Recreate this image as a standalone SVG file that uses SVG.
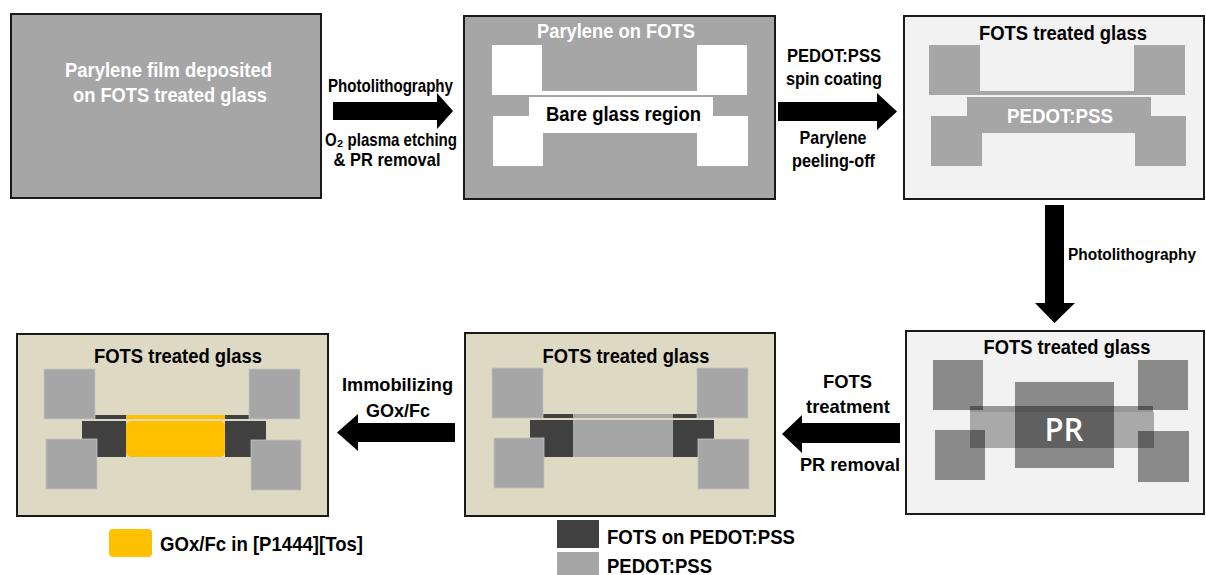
<svg xmlns="http://www.w3.org/2000/svg" width="1206" height="575" viewBox="0 0 1206 575">
<style>
text{font-family:"Liberation Sans",Arial,sans-serif;font-weight:bold}
.box{stroke:#1a1a1a;stroke-width:2}
.dg{fill:#a6a6a6}
.lt{fill:#f2f2f2}
.tan{fill:#ddd9c3}
.pad{fill:#a6a6a6;stroke:#c4c4c4;stroke-width:0.8}
.dk{fill:#404040}
.yl{fill:#ffc000}
.wh{fill:#ffffff}
.arrow{fill:#000000}
.t19{font-size:20.5px}
.t17{font-size:18.5px}
.wt{fill:#ffffff}
.bk{fill:#000000}
</style>
<g id="step1">
<rect class="box dg" x="11" y="14" width="310" height="184"/>
<text class="t19 wt" x="168.5" y="77" text-anchor="middle" textLength="207" lengthAdjust="spacingAndGlyphs">Parylene film deposited</text>
<text class="t19 wt" x="170" y="102" text-anchor="middle" textLength="194" lengthAdjust="spacingAndGlyphs">on FOTS treated glass</text>
</g>
<g id="step2">
<rect class="box dg" x="464" y="16" width="311" height="183"/>
<text class="t19 wt" x="616" y="38" text-anchor="middle" textLength="158" lengthAdjust="spacingAndGlyphs">Parylene on FOTS</text>
<rect class="wh" x="492" y="45" width="50" height="50"/>
<rect class="wh" x="697" y="45" width="50" height="50"/>
<rect class="wh" x="541" y="91" width="157" height="4"/>
<rect class="wh" x="529" y="97" width="184" height="36"/>
<rect class="wh" x="493" y="116" width="50" height="50"/>
<rect class="wh" x="697" y="116" width="51" height="50"/>
<text class="t19 bk" x="623.5" y="121" text-anchor="middle" textLength="155" lengthAdjust="spacingAndGlyphs">Bare glass region</text>
</g>
<g id="step3">
<rect class="box lt" x="904" y="16" width="300" height="183"/>
<text class="t19 bk" x="1063" y="40" text-anchor="middle" textLength="168" lengthAdjust="spacingAndGlyphs">FOTS treated glass</text>
<rect class="dg" x="929" y="45" width="51" height="50"/>
<rect class="dg" x="1134" y="45" width="51" height="50"/>
<rect class="dg" x="979" y="91" width="156" height="4"/>
<rect class="dg" x="967" y="97" width="184" height="36"/>
<rect class="dg" x="931" y="116" width="51" height="50"/>
<rect class="dg" x="1135" y="116" width="51" height="50"/>
<text class="t19 wt" x="1060" y="123" text-anchor="middle" textLength="106" lengthAdjust="spacingAndGlyphs">PEDOT:PSS</text>
</g>
<g id="step4">
<rect class="box lt" x="906" y="331" width="298" height="183"/>
<text class="t19 bk" x="1067" y="354" text-anchor="middle" textLength="167" lengthAdjust="spacingAndGlyphs">FOTS treated glass</text>
<rect x="933" y="360" width="50" height="50" fill="#000" fill-opacity="0.43"/>
<rect x="1138" y="360" width="50" height="50" fill="#000" fill-opacity="0.43"/>
<rect x="970" y="406" width="183" height="6" fill="#000" fill-opacity="0.38"/>
<rect x="970" y="412" width="184" height="36" fill="#000" fill-opacity="0.3"/>
<rect x="935" y="430" width="50" height="50" fill="#000" fill-opacity="0.43"/>
<rect x="1138" y="431" width="51" height="51" fill="#000" fill-opacity="0.43"/>
<rect x="1015" y="382" width="99" height="86" fill="#000" fill-opacity="0.43"/>
<text x="1064" y="441" text-anchor="middle" style="font-family:'Open Sans','Noto Sans',sans-serif;font-weight:600;font-size:33px" fill="#ffffff" textLength="39" lengthAdjust="spacingAndGlyphs">PR</text>
</g>
<g id="step5">
<rect class="box tan" x="465" y="333" width="310" height="183"/>
<text class="t19 bk" x="626" y="363" text-anchor="middle" textLength="167" lengthAdjust="spacingAndGlyphs">FOTS treated glass</text>
<rect class="dk" x="543" y="414" width="30" height="4"/>
<rect class="dg" x="573" y="414" width="100" height="4"/>
<rect class="dk" x="673" y="414" width="24" height="4"/>
<rect class="dk" x="530" y="420" width="43" height="37"/>
<rect class="dg" x="573" y="420" width="100" height="37"/>
<rect class="dk" x="673" y="420" width="41" height="37"/>
<rect class="pad" x="492" y="368" width="51" height="50"/>
<rect class="pad" x="697" y="368" width="51" height="50"/>
<rect class="pad" x="494" y="438" width="50" height="50"/>
<rect class="pad" x="698" y="439" width="51" height="50"/>
</g>
<g id="step6">
<rect class="box tan" x="17" y="334" width="311" height="182"/>
<text class="t19 bk" x="178" y="363" text-anchor="middle" textLength="168" lengthAdjust="spacingAndGlyphs">FOTS treated glass</text>
<rect class="dk" x="95" y="415" width="31" height="4"/>
<rect class="yl" x="126" y="415" width="99" height="4"/>
<rect class="dk" x="225" y="415" width="24" height="4"/>
<rect class="dk" x="82" y="421" width="44" height="36"/>
<rect class="dk" x="225" y="421" width="41" height="36"/>
<rect class="yl" x="126" y="421" width="99" height="36" rx="5"/>
<rect class="pad" x="44" y="369" width="51" height="50"/>
<rect class="pad" x="249" y="369" width="51" height="50"/>
<rect class="pad" x="46" y="439" width="51" height="50"/>
<rect class="pad" x="251" y="440" width="50" height="50"/>
</g>
<g id="legend-fots">
<rect class="dk" x="557" y="520" width="42" height="28"/>
<rect class="dg" x="557" y="552" width="42" height="25"/>
<text class="t19 bk" x="607" y="544" textLength="188" lengthAdjust="spacingAndGlyphs">FOTS on PEDOT:PSS</text>
<text class="t19 bk" x="607" y="573" textLength="105" lengthAdjust="spacingAndGlyphs">PEDOT:PSS</text>
</g>
<g id="legend-gox">
<rect class="yl" x="109" y="529" width="43" height="28" rx="4"/>
<text class="t19 bk" x="160" y="551" textLength="203" lengthAdjust="spacingAndGlyphs">GOx/Fc in [P1444][Tos]</text>
</g>
<g id="connectors">
<polygon class="arrow" points="333,102 437,102 437,93 453,111 437,129 437,120 333,120"/>
<text class="t17 bk" x="390.5" y="92" text-anchor="middle" textLength="125" lengthAdjust="spacingAndGlyphs">Photolithography</text>
<text class="t17 bk" x="391" y="146" text-anchor="middle" textLength="132" lengthAdjust="spacingAndGlyphs">O₂ plasma etching</text>
<text class="t17 bk" x="387" y="166" text-anchor="middle" textLength="107" lengthAdjust="spacingAndGlyphs">&amp; PR removal</text>
<polygon class="arrow" points="778,102 877,102 877,93 897,111.5 877,130 877,121 778,121"/>
<text class="t17 bk" x="834" y="62" text-anchor="middle" textLength="94" lengthAdjust="spacingAndGlyphs">PEDOT:PSS</text>
<text class="t17 bk" x="834" y="85" text-anchor="middle" textLength="96" lengthAdjust="spacingAndGlyphs">spin coating</text>
<text class="t17 bk" x="833" y="144" text-anchor="middle" textLength="67" lengthAdjust="spacingAndGlyphs">Parylene</text>
<text class="t17 bk" x="833.5" y="167" text-anchor="middle" textLength="83" lengthAdjust="spacingAndGlyphs">peeling-off</text>
<polygon class="arrow" points="1045,205 1064,205 1064,303 1075,303 1054.5,323 1035,303 1045,303"/>
<text class="bk" x="1068" y="260" style="font-size:16px" textLength="128" lengthAdjust="spacingAndGlyphs">Photolithography</text>
<polygon class="arrow" points="900,423 802,423 802,415 782,434 802,453 802,443 900,443"/>
<text class="t17 bk" x="847.5" y="388" text-anchor="middle" textLength="49" lengthAdjust="spacingAndGlyphs">FOTS</text>
<text class="t17 bk" x="848" y="413" text-anchor="middle" textLength="84" lengthAdjust="spacingAndGlyphs">treatment</text>
<text class="t17 bk" x="850" y="471" text-anchor="middle" textLength="100" lengthAdjust="spacingAndGlyphs">PR removal</text>
<polygon class="arrow" points="455,423 358,423 358,414 337,432.5 358,451 358,442 455,442"/>
<text class="t17 bk" x="397.5" y="391" text-anchor="middle" textLength="111" lengthAdjust="spacingAndGlyphs">Immobilizing</text>
<text class="t17 bk" x="398" y="417" text-anchor="middle" textLength="64" lengthAdjust="spacingAndGlyphs">GOx/Fc</text>
</g>
</svg>
